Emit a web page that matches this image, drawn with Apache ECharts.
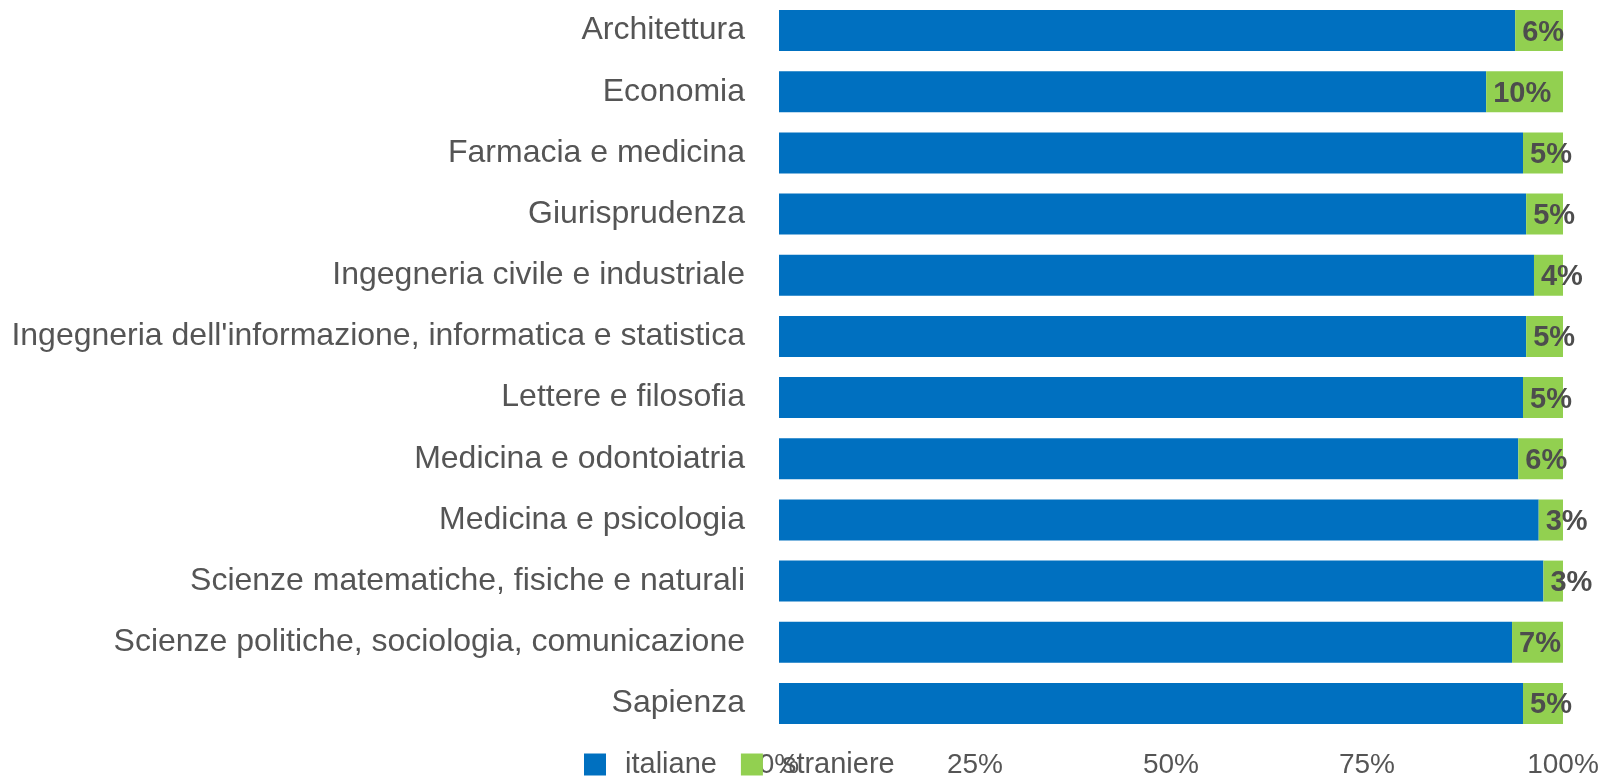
<!DOCTYPE html>
<html>
<head>
<meta charset="utf-8">
<script src="https://cdn.jsdelivr.net/npm/echarts@6/dist/echarts.min.js"></script>
<style>
  html, body { margin: 0; padding: 0; background: #fff; }
  #chart { width: 1606px; height: 776px; }
</style>
</head>
<body>
<div id="chart"></div>
<script>
// facoltà (dall'alto verso il basso)
var facolta = [
  'Architettura',
  'Economia',
  'Farmacia e medicina',
  'Giurisprudenza',
  'Ingegneria civile e industriale',
  "Ingegneria dell'informazione, informatica e statistica",
  'Lettere e filosofia',
  'Medicina e odontoiatria',
  'Medicina e psicologia',
  'Scienze matematiche, fisiche e naturali',
  'Scienze politiche, sociologia, comunicazione',
  'Sapienza'
];
// quote in percentuale
var italiane  = [93.9, 90.2, 94.9, 95.3, 96.3, 95.3, 94.9, 94.3, 96.9, 97.5, 93.5, 94.9];
var straniere = [6.1, 9.8, 5.1, 4.7, 3.7, 4.7, 5.1, 5.7, 3.1, 2.5, 6.5, 5.1];
var xTicks = [0, 25, 50, 75, 100];

var font = 'Liberation Sans, Arial, Helvetica, sans-serif';
var grigio = '#555555';

var chart = echarts.init(document.getElementById('chart'));

var option = {
  animation: false,
  textStyle: { fontFamily: font },
  grid: {
    left: 779,
    right: 43,
    top: 0,
    bottom: 42,
    containLabel: false,
    outerBoundsMode: 'none'
  },
  legend: {
    left: 584,
    top: 750,
    icon: 'rect',
    itemWidth: 22,
    itemHeight: 22,
    itemGap: 24,
    padding: 0,
    textStyle: {
      fontFamily: font,
      fontSize: 29,
      color: grigio,
      padding: [0, 0, 0, 14]
    },
    data: ['italiane', 'straniere']
  },
  xAxis: {
    type: 'value',
    min: xTicks[0],
    max: xTicks[xTicks.length - 1],
    interval: 25,
    splitLine: { show: false },
    axisLine: { show: false },
    axisTick: { show: false },
    axisLabel: {
      fontFamily: font,
      fontSize: 28,
      color: grigio,
      margin: 17,
      formatter: '{value}%'
    }
  },
  yAxis: {
    type: 'category',
    inverse: true,
    data: facolta,
    axisLine: { show: false },
    axisTick: { show: false },
    axisLabel: {
      fontFamily: font,
      fontSize: 32,
      color: grigio,
      margin: 34
    }
  },
  series: [
    {
      name: 'italiane',
      type: 'bar',
      stack: 'tot',
      barCategoryGap: '33%',
      itemStyle: { color: '#0070C0' },
      data: italiane
    },
    {
      name: 'straniere',
      type: 'bar',
      stack: 'tot',
      barCategoryGap: '33%',
      itemStyle: { color: '#92D050' },
      label: {
        show: true,
        position: 'insideLeft',
        distance: 7,
        fontFamily: font,
        fontSize: 29,
        fontWeight: 'bold',
        color: '#4d4d4d',
        offset: [0, 2],
        formatter: function (p) { return Math.round(p.value) + '%'; }
      },
      data: straniere
    }
  ]
};

chart.setOption(option);
</script>
</body>
</html>
